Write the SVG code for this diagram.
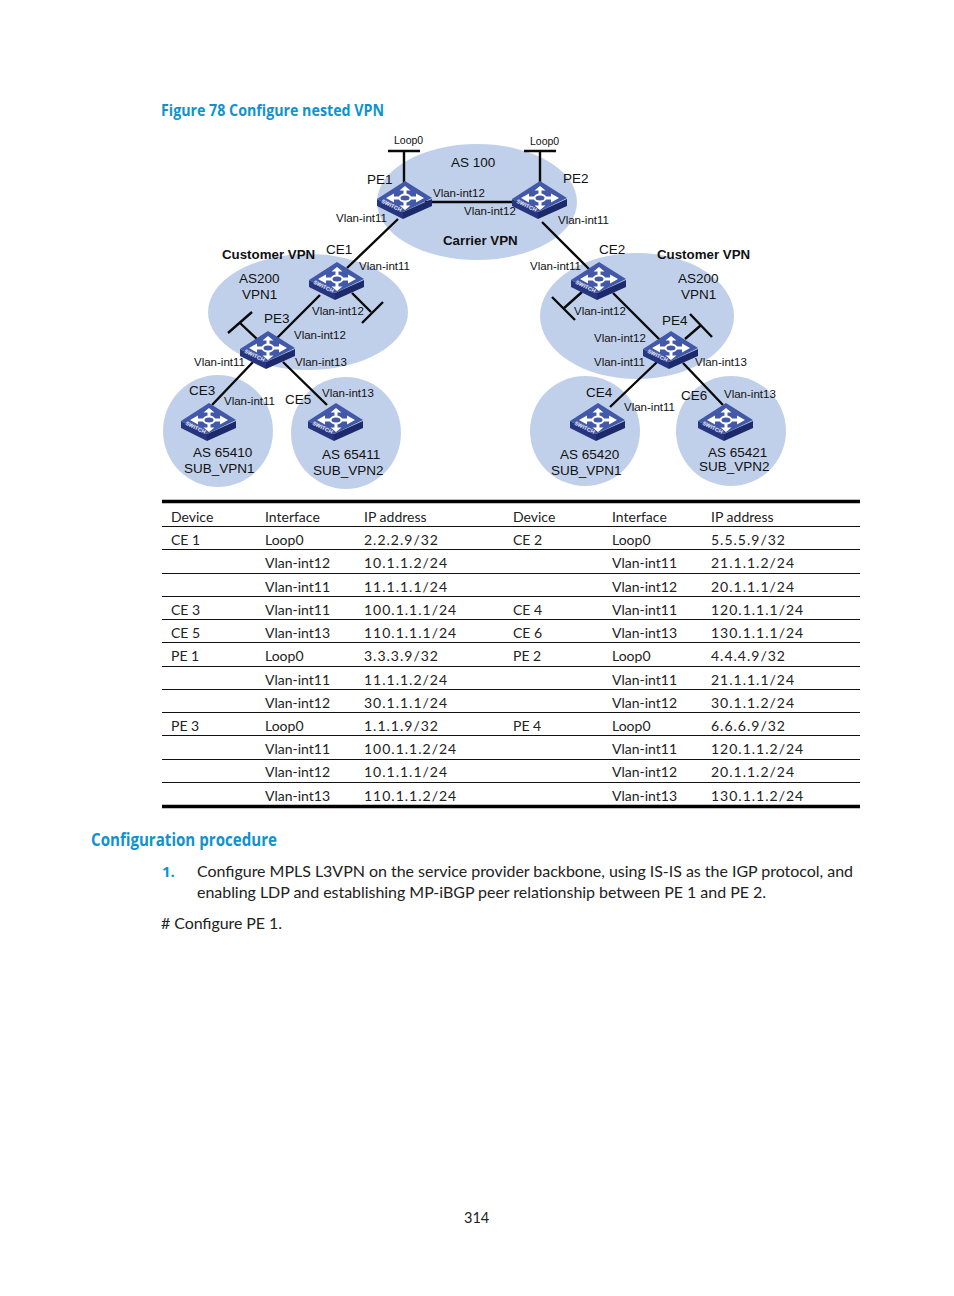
<svg xmlns="http://www.w3.org/2000/svg" width="954" height="1296" viewBox="0 0 954 1296">
<style>
text{font-family:"Lato","Open Sans","Liberation Sans",sans-serif;fill:#222}
.h{font-family:"Open Sans","Liberation Sans",sans-serif;font-weight:700;fill:#0f92ce}
.d text,text.d{font-family:"Liberation Sans",Arial,sans-serif;fill:#111}
.dl{font-size:13.5px}
.if{font-size:11.5px}
.b{font-size:13.3px;font-weight:700}
.t{font-size:14px;fill:#2a2a2a}
.t text[x="364"],.t text[x="711"]{letter-spacing:1px}
.p{font-size:16px;fill:#222}
.cloud{fill:#c1d0ea}
.l{stroke:#0a0a0a;stroke-width:2.4;fill:none}
.r{stroke:#111;stroke-width:1;fill:none}
.R{stroke:#000;stroke-width:3.4;fill:none}
.sw{font-family:"Liberation Sans",sans-serif;font-size:5.5px;font-weight:700;fill:#e8edf8}
</style>
<defs>
<g id="sw">
<path d="M-28 1L-2 14V21L-28 8Z" fill="#27357f"/>
<path d="M-2 14L27 1V8L-2 21Z" fill="#1c2a6c"/>
<path d="M-28 1L0 -17L27 0L-2 14Z" fill="#4258a8"/>
<path d="M-19 0L-11 -4.500V-1.500H-5V1.500H-11V4.500ZM19 0L11 -4.500V-1.500H5V1.500H11V4.500ZM0 -12L5.500 -7.500H1.500V-3.500H-1.500V-7.500H-5.500ZM0 12L5.500 7.500H1.500V3.500H-1.500V7.500H-5.500Z" fill="#fff"/>
<ellipse cx="0" cy="0" rx="5.500" ry="3.500" fill="#4258a8" stroke="#fff" stroke-width="2"/>
<text class="sw" transform="translate(-24 4.500) rotate(26)">SWITCH</text>
</g>
</defs>

<text x="161" y="116" class="h" font-size="15.500" textLength="223" lengthAdjust="spacingAndGlyphs" id="figure-title">Figure 78 Configure nested VPN</text>

<g id="clouds">
<ellipse class="cloud" cx="477" cy="202" rx="100" ry="58"/>
<ellipse class="cloud" cx="308" cy="312" rx="100" ry="58"/>
<ellipse class="cloud" cx="637" cy="316" rx="97" ry="63"/>
<ellipse class="cloud" cx="218" cy="431" rx="55" ry="56"/>
<ellipse class="cloud" cx="346" cy="433" rx="55" ry="56"/>
<ellipse class="cloud" cx="585" cy="431" rx="55" ry="55"/>
<ellipse class="cloud" cx="731" cy="431" rx="55" ry="55"/>
</g>

<g id="connectors">
<path class="l" d="M404 151V190M388 151H420M540 151V190M524 151H556"/>
<path class="l" d="M425 202H520"/>
<path class="l" d="M398 219L347 268M542 222L590 270"/>
<path class="l" d="M320 295L275 340M613 293L660 340"/>
<path class="l" d="M352 293L371 312M362 323L383 302M240 323L258 340M228 333L252 312M563 309L582 292M552 297L575 320M700 326L685 339M690 314L712 337"/>
<path class="l" d="M253 362L212 405M283 362L327 405M657 362L610 407M683 363L723 405"/>
</g>

<g id="PE1"><use href="#sw" x="405" y="198"/><text class="d dl" x="367" y="184">PE1</text></g>
<g id="PE2"><use href="#sw" x="540" y="198"/><text class="d dl" x="563" y="183">PE2</text></g>
<g id="CE1"><use href="#sw" x="337" y="279"/><text class="d dl" x="326" y="254">CE1</text></g>
<g id="CE2"><use href="#sw" x="599" y="279"/><text class="d dl" x="599" y="254">CE2</text></g>
<g id="PE3"><use href="#sw" x="268" y="348"/><text class="d dl" x="264" y="323">PE3</text></g>
<g id="PE4"><use href="#sw" x="671" y="348"/><text class="d dl" x="662" y="325">PE4</text></g>
<g id="CE3"><use href="#sw" x="209" y="420"/><text class="d dl" x="189" y="395">CE3</text></g>
<g id="CE5"><use href="#sw" x="336" y="420"/><text class="d dl" x="285" y="404">CE5</text></g>
<g id="CE4"><use href="#sw" x="598" y="420"/><text class="d dl" x="586" y="397">CE4</text></g>
<g id="CE6"><use href="#sw" x="726" y="420"/><text class="d dl" x="681" y="400">CE6</text></g>

<g id="diagram-labels" class="d">
<text x="394" y="144" font-size="10.500">Loop0</text>
<text x="530" y="145" font-size="10.500">Loop0</text>
<text class="dl" x="451" y="167">AS 100</text>
<text class="b" x="443" y="245">Carrier VPN</text>
<text class="b" x="222" y="259">Customer VPN</text>
<text class="b" x="657" y="259">Customer VPN</text>
<text class="dl" x="239" y="283">AS200</text>
<text class="dl" x="242" y="299">VPN1</text>
<text class="dl" x="678" y="283">AS200</text>
<text class="dl" x="681" y="299">VPN1</text>
<text class="dl" x="193" y="457">AS 65410</text>
<text class="dl" x="184" y="473">SUB_VPN1</text>
<text class="dl" x="322" y="459">AS 65411</text>
<text class="dl" x="313" y="475">SUB_VPN2</text>
<text class="dl" x="560" y="459">AS 65420</text>
<text class="dl" x="551" y="475">SUB_VPN1</text>
<text class="dl" x="708" y="457">AS 65421</text>
<text class="dl" x="699" y="471">SUB_VPN2</text>
<g class="if">
<text x="433" y="197">Vlan-int12</text>
<text x="464" y="215">Vlan-int12</text>
<text x="336" y="222">Vlan-int11</text>
<text x="558" y="224">Vlan-int11</text>
<text x="359" y="270">Vlan-int11</text>
<text x="530" y="270">Vlan-int11</text>
<text x="312" y="315">Vlan-int12</text>
<text x="574" y="315">Vlan-int12</text>
<text x="294" y="339">Vlan-int12</text>
<text x="594" y="342">Vlan-int12</text>
<text x="194" y="366">Vlan-int11</text>
<text x="295" y="366">Vlan-int13</text>
<text x="594" y="366">Vlan-int11</text>
<text x="695" y="366">Vlan-int13</text>
<text x="224" y="405">Vlan-int11</text>
<text x="322" y="397">Vlan-int13</text>
<text x="624" y="411">Vlan-int11</text>
<text x="724" y="398">Vlan-int13</text>
</g>
</g>

<g id="table">
<path class="R" d="M162 501.500H860M162 806.500H860"/>
<path class="r" d="M162 526.500H860M162 549.500H860M162 573.500H860M162 596.500H860M162 619.500H860M162 642.500H860M162 666.500H860M162 689.500H860M162 712.500H860M162 735.500H860M162 759.500H860M162 782.500H860"/>
<g class="t">
<text x="171" y="522">Device</text><text x="265" y="522">Interface</text><text x="364.100" y="522">IP address</text><text x="513" y="522">Device</text><text x="612" y="522">Interface</text><text x="711.100" y="522">IP address</text>
<text x="171" y="545">CE 1</text><text x="265" y="545">Loop0</text><text x="364" y="545">2.2.2.9/32</text><text x="513" y="545">CE 2</text><text x="612" y="545">Loop0</text><text x="711" y="545">5.5.5.9/32</text>
<text x="265" y="568">Vlan-int12</text><text x="364" y="568">10.1.1.2/24</text><text x="612" y="568">Vlan-int11</text><text x="711" y="568">21.1.1.2/24</text>
<text x="265" y="592">Vlan-int11</text><text x="364" y="592">11.1.1.1/24</text><text x="612" y="592">Vlan-int12</text><text x="711" y="592">20.1.1.1/24</text>
<text x="171" y="615">CE 3</text><text x="265" y="615">Vlan-int11</text><text x="364" y="615">100.1.1.1/24</text><text x="513" y="615">CE 4</text><text x="612" y="615">Vlan-int11</text><text x="711" y="615">120.1.1.1/24</text>
<text x="171" y="638">CE 5</text><text x="265" y="638">Vlan-int13</text><text x="364" y="638">110.1.1.1/24</text><text x="513" y="638">CE 6</text><text x="612" y="638">Vlan-int13</text><text x="711" y="638">130.1.1.1/24</text>
<text x="171" y="661">PE 1</text><text x="265" y="661">Loop0</text><text x="364" y="661">3.3.3.9/32</text><text x="513" y="661">PE 2</text><text x="612" y="661">Loop0</text><text x="711" y="661">4.4.4.9/32</text>
<text x="265" y="685">Vlan-int11</text><text x="364" y="685">11.1.1.2/24</text><text x="612" y="685">Vlan-int11</text><text x="711" y="685">21.1.1.1/24</text>
<text x="265" y="708">Vlan-int12</text><text x="364" y="708">30.1.1.1/24</text><text x="612" y="708">Vlan-int12</text><text x="711" y="708">30.1.1.2/24</text>
<text x="171" y="731">PE 3</text><text x="265" y="731">Loop0</text><text x="364" y="731">1.1.1.9/32</text><text x="513" y="731">PE 4</text><text x="612" y="731">Loop0</text><text x="711" y="731">6.6.6.9/32</text>
<text x="265" y="754">Vlan-int11</text><text x="364" y="754">100.1.1.2/24</text><text x="612" y="754">Vlan-int11</text><text x="711" y="754">120.1.1.2/24</text>
<text x="265" y="777">Vlan-int12</text><text x="364" y="777">10.1.1.1/24</text><text x="612" y="777">Vlan-int12</text><text x="711" y="777">20.1.1.2/24</text>
<text x="265" y="801">Vlan-int13</text><text x="364" y="801">110.1.1.2/24</text><text x="612" y="801">Vlan-int13</text><text x="711" y="801">130.1.1.2/24</text>
</g>
</g>

<g id="body">
<text x="91" y="846" class="h" font-size="17.500" textLength="186" lengthAdjust="spacingAndGlyphs">Configuration procedure</text>
<text x="162" y="877" class="h" font-size="15">1.</text>
<text class="p" x="197" y="877" textLength="656">Configure MPLS L3VPN on the service provider backbone, using IS-IS as the IGP protocol, and</text>
<text class="p" x="197" y="898" textLength="569">enabling LDP and establishing MP-iBGP peer relationship between PE 1 and PE 2.</text>
<text class="p" x="161" y="929" textLength="121"># Configure PE 1.</text>
<text x="464" y="1223" font-size="14.500">314</text>
</g>
</svg>
